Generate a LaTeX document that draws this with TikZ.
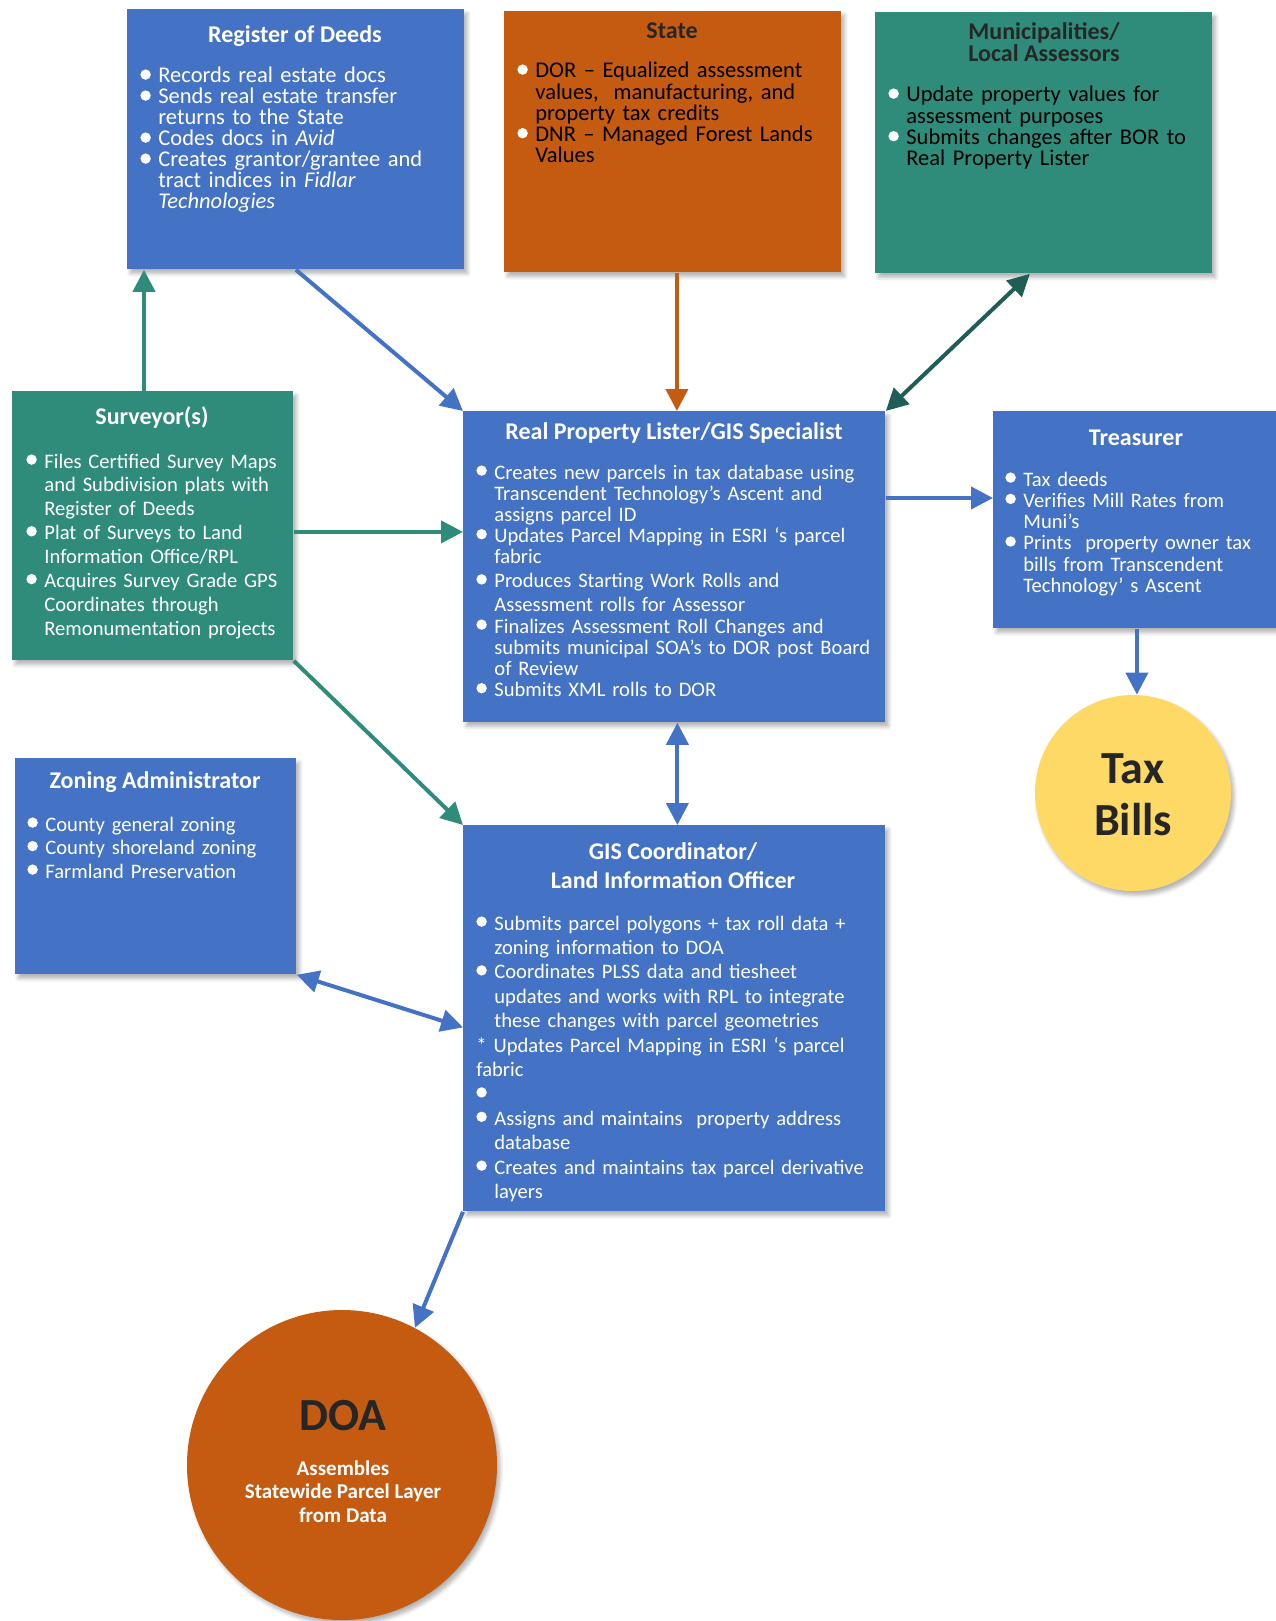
\documentclass[tikz,border=0pt]{standalone}
\usepackage{fontspec}
\setmainfont{Carlito}
\usetikzlibrary{arrows.meta,shadows.blur}

\definecolor{boxblue}{HTML}{4472C4}
\definecolor{boxorange}{HTML}{C55A11}
\definecolor{boxteal}{HTML}{2F8C7B}
\definecolor{darkteal}{HTML}{1F5E54}
\definecolor{billyellow}{HTML}{FFD966}
\definecolor{inkgray}{HTML}{262626}

\setlength{\lineskiplimit}{-20pt}
\newlength{\bulind}
\setlength{\bulind}{9pt}
\newcommand{\bul}{\tikz[baseline=0pt]\fill[white] (2.6pt,4.2pt) circle (2.6pt);}
\newcommand{\itm}[1]{\noindent\hangindent=\bulind\hangafter=1\makebox[\bulind][l]{\bul}#1\par}
\newcommand{\fsz}[2]{\fontsize{#1}{#2}\selectfont}

\begin{document}
\begin{tikzpicture}[x=0.5pt,y=-0.5pt,
  card/.style={anchor=north west, inner sep=0pt,
    blur shadow={shadow xshift=1.5pt, shadow yshift=-2pt, shadow blur steps=6, shadow opacity=30}},
  disc/.style={circle, inner sep=0pt,
    blur shadow={shadow xshift=1.5pt, shadow yshift=-2pt, shadow blur steps=6, shadow opacity=30}},
  ttl/.style={anchor=base, inner sep=0pt, align=center, text=white, font=\bfseries\fsz{12}{14.5}},
  body/.style={anchor=base west, inner sep=0pt, align=left, text width=#1, text=white},
  link/.style={line width=2pt, -{Triangle[length=11pt,width=11pt]}},
  twoway/.style={line width=2pt, {Triangle[length=11pt,width=11pt]}-{Triangle[length=11pt,width=11pt]}}]

  \useasboundingbox (0,0) rectangle (1275,1621);

  % top row
  \node[card, fill=boxblue, minimum width=168.5pt, minimum height=130pt] (rod) at (127,9) {};
  \node[ttl] (rodT) at (295,43) {Register of Deeds};
  \node[body=170pt, font=\fsz{11.25}{10.5}] (rodB) at (140,83) {%
    \itm{Records real estate docs}
    \itm{Sends real estate transfer\newline returns to the State}
    \itm{Codes docs in \textit{Avid}}
    \itm{Creates grantor/grantee and\newline tract indices in \textit{Fidlar}\newline \textit{Technologies}}};

  \node[card, fill=boxorange, minimum width=168.5pt, minimum height=130.5pt] (state) at (504,11) {};
  \node[ttl, text=inkgray] (stateT) at (672,39) {State};
  \node[body=170pt, text=black, font=\fsz{11.25}{10.6}] (stateB) at (517,78) {%
    \itm{DOR – Equalized assessment\newline values,\ \ manufacturing, and\newline property tax credits}
    \itm{DNR – Managed Forest Lands\newline Values}};

  \node[card, fill=boxteal, minimum width=168.5pt, minimum height=130.5pt] (muni) at (875,12) {};
  \node[ttl, text=inkgray, font=\bfseries\fsz{12}{11}] (muniT) at (1044,62) {Municipalities/\\Local Assessors};
  \node[body=170pt, text=black, font=\fsz{11.25}{10.65}] (muniB) at (888,102) {%
    \itm{Update property values for\newline assessment purposes}
    \itm{Submits changes after BOR to\newline Real Property Lister}};

  % middle row
  \node[card, fill=boxteal, minimum width=140.5pt, minimum height=134.5pt] (surv) at (12,391) {};
  \node[ttl] (survT) at (152,424) {Surveyor(s)};
  \node[body=150pt, font=\fsz{10.3}{11.95}] (survB) at (26,468) {%
    \itm{Files Certified Survey Maps\newline and Subdivision plats with\newline Register of Deeds}
    \itm{Plat of Surveys to Land\newline Information Office/RPL}
    \itm{Acquires Survey Grade GPS\newline Coordinates through\newline Remonumentation projects}};

  \node[card, fill=boxblue, minimum width=211pt, minimum height=155.5pt] (rpl) at (463,411) {};
  \node[ttl] (rplT) at (674,439) {Real Property Lister/GIS Specialist};
  \node[body=230pt, font=\fsz{10.3}{10.6}] (rplB) at (476,479) {%
    \itm{Creates new parcels in tax database using\newline Transcendent Technology’s Ascent and\newline assigns parcel ID}
    \itm{Updates Parcel Mapping in ESRI ‘s parcel\newline fabric}
    {\fsz{10.3}{12}\itm{Produces Starting Work Rolls and\newline Assessment rolls for Assessor}}
    \itm{Finalizes Assessment Roll Changes and\newline submits municipal SOA’s to DOR post Board\newline of Review}
    \itm{Submits XML rolls to DOR}};

  \node[card, fill=boxblue, minimum width=143.5pt, minimum height=108.5pt] (treas) at (993,411) {};
  \node[ttl] (treasT) at (1136,445) {Treasurer};
  \node[body=150pt, font=\fsz{10.3}{10.65}] (treasB) at (1005,486) {%
    \itm{Tax deeds}
    \itm{Verifies Mill Rates from\newline Muni’s}
    \itm{Prints\ \ property owner tax\newline bills from Transcendent\newline Technology’ s Ascent}};

  \node[disc, fill=billyellow, minimum size=98pt] (tax) at (1133,793) {};
  \node[ttl, text=inkgray, font=\bfseries\fsz{23}{26}] (taxT) at (1133,835) {Tax\\Bills};

  % lower row
  \node[card, fill=boxblue, minimum width=140.5pt, minimum height=108pt] (zon) at (15,758) {};
  \node[ttl] (zonT) at (155,788) {Zoning Administrator};
  \node[body=150pt, font=\fsz{10.3}{11.75}] (zonB) at (27,831) {%
    \itm{County general zoning}
    \itm{County shoreland zoning}
    \itm{Farmland Preservation}};

  \node[card, fill=boxblue, minimum width=211pt, minimum height=193pt] (gis) at (463,825) {};
  \node[ttl] (gisT) at (673,888) {GIS Coordinator/\\Land Information Officer};
  \node[body=230pt, font=\fsz{10.3}{12.2}] (gisB) at (476,930) {%
    \itm{Submits parcel polygons + tax roll data +\newline zoning information to DOA}
    \itm{Coordinates PLSS data and tiesheet\newline updates and works with RPL to integrate\newline these changes with parcel geometries}
    \noindent * Updates Parcel Mapping in ESRI ‘s parcel\newline fabric\par
    \itm{}
    \itm{Assigns and maintains\ \ property address\newline database}
    \itm{Creates and maintains tax parcel derivative\newline layers}};

  \node[disc, fill=boxorange, minimum size=155pt] (doa) at (342,1465) {};
  \node[ttl, text=inkgray, font=\bfseries\fsz{23}{26}] (doaT) at (343,1430) {DOA};
  \node[ttl, font=\bfseries\fsz{10.5}{11.75}] (doaB) at (343,1522) {Assembles\\Statewide Parcel Layer\\from Data};

  % connectors
  \coordinate (svtop) at ([xshift=66pt]surv.north west);
  \coordinate (rplout) at ([yshift=-43.5pt]rpl.north east);
  \draw[link, boxteal] (svtop) -- (svtop |- rod.south);
  \draw[link, boxblue] (rod.south) -- (rpl.north west);
  \draw[link, boxorange] ([xshift=2pt]state.south) -- ([xshift=2pt]state.south |- rpl.north);
  \draw[twoway, darkteal] ([xshift=-7pt]muni.south) -- (rpl.north east);
  \draw[link, boxteal] ([yshift=-3pt]surv.east) -- ([yshift=-3pt]surv.east -| rpl.west);
  \draw[link, boxblue] (rplout) -- (rplout -| treas.west);
  \draw[link, boxteal] (surv.south east) -- (gis.north west);
  \draw[twoway, boxblue] ([xshift=1.5pt]rpl.south) -- ([xshift=1.5pt]gis.north);
  \draw[twoway, boxblue] (zon.south east) -- ([yshift=-4.5pt]gis.west);
  \draw[link, boxblue] (gis.south west) -- (doa.62);
  \draw[link, boxblue] (treas.south) -- (treas.south |- tax.north);
\end{tikzpicture}
\end{document}
